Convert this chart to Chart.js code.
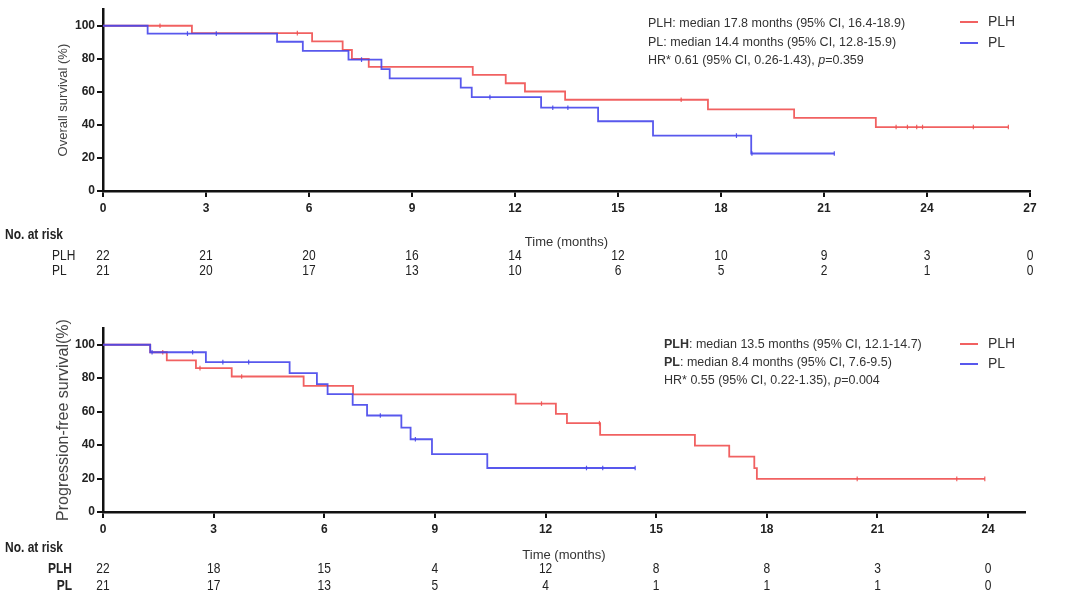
<!DOCTYPE html>
<html>
<head>
<meta charset="utf-8">
<script src="https://cdn.jsdelivr.net/npm/chart.js@4.4.1/dist/chart.umd.min.js"></script>
<style>
  html, body { margin: 0; padding: 0; background: #fff; }
  #wrap { position: relative; width: 1068px; height: 611px; }
  .box { position: absolute; left: 0; width: 1068px; }
  #top { top: 0; height: 300px; }
  #bot { top: 300px; height: 311px; }
</style>
</head>
<body>
<div id="wrap">
  <div class="box" id="top"><canvas id="osChart"></canvas></div>
  <div class="box" id="bot"><canvas id="pfsChart"></canvas></div>
</div>
<script>
// Overall survival
const osPlhTime = [0, 2.59, 6.09, 6.98, 7.25, 7.74, 10.77, 11.73, 12.29, 13.46, 17.62, 20.13, 22.51, 26.37];
const osPlhSurv = [100, 95.5, 90.5, 85.3, 80, 75.1, 70.3, 65.2, 60.2, 55.2, 49.4, 44.2, 38.7, 38.7];
const osPlhCens = [1.66, 5.66, 16.84, 23.1, 23.43, 23.7, 23.87, 25.35, 26.37];
const osPlTime = [0, 1.30, 5.07, 5.82, 7.15, 8.11, 8.35, 10.42, 10.74, 12.76, 14.42, 16.02, 18.88, 21.3];
const osPlSurv = [100, 95.2, 90.3, 84.8, 79.5, 73.8, 68.2, 62.5, 56.8, 50.4, 42.2, 33.5, 22.7, 22.7];
const osPlCens = [2.46, 3.3, 7.53, 11.27, 13.1, 13.54, 18.45, 18.9, 21.3];

// Progression-free survival
const pfsPlhTime = [0, 1.28, 1.73, 2.52, 3.49, 5.44, 6.78, 11.19, 12.28, 12.58, 13.48, 16.05, 16.98, 17.66, 17.73, 23.91];
const pfsPlhSurv = [100, 95.5, 90.6, 86, 81, 75.4, 70.3, 64.8, 58.7, 53.1, 46.1, 39.7, 33.1, 26.2, 19.8, 19.8];
const pfsPlhCens = [1.62, 2.63, 3.76, 11.89, 13.46, 20.45, 23.15, 23.91];
const pfsPlTime = [0, 1.28, 2.79, 5.06, 5.8, 6.09, 6.77, 7.16, 8.09, 8.34, 8.92, 10.42, 14.43];
const pfsPlSurv = [100, 95.5, 89.6, 83, 76.5, 70.5, 64, 57.7, 50.5, 43.5, 34.6, 26.3, 26.3];
const pfsPlCens = [1.33, 2.43, 3.25, 3.95, 7.52, 8.47, 13.11, 13.55, 14.43];

// numbers at risk
const osTicks = [0, 3, 6, 9, 12, 15, 18, 21, 24, 27];
const osRiskPlh = [22, 21, 20, 16, 14, 12, 10, 9, 3, 0];
const osRiskPl = [21, 20, 17, 13, 10, 6, 5, 2, 1, 0];
const pfsTicks = [0, 3, 6, 9, 12, 15, 18, 21, 24];
const pfsRiskPlh = [22, 18, 15, 4, 12, 8, 8, 3, 0];
const pfsRiskPl = [21, 17, 13, 5, 4, 1, 1, 1, 0];

const RED = 'rgba(240, 80, 80, 0.9)';
const BLUE = 'rgba(70, 70, 235, 0.9)';
const FONT = "'Liberation Sans', Arial, sans-serif";

function survAt(times, surv, t) {
  let v = surv[0];
  for (let i = 0; i < times.length; i++) if (times[i] <= t) v = surv[i];
  return v;
}

function curve(times, surv, color) {
  return {
    data: times.map((t, i) => ({ x: t, y: surv[i] })),
    borderColor: color, borderWidth: 1.8, stepped: 'before',
    pointRadius: 0, fill: false
  };
}

function censors(cens, times, surv, color) {
  return {
    data: cens.map(t => ({ x: t, y: survAt(times, surv, t) })),
    showLine: false, pointStyle: 'line', rotation: 90, pointRadius: 2.3,
    borderColor: color, borderWidth: 1.2, backgroundColor: color
  };
}

// draw text pieces one after the other
function runs(ctx, x, y, parts) {
  parts.forEach(([txt, font]) => {
    ctx.font = font;
    ctx.fillText(txt, x, y);
    x += ctx.measureText(txt).width;
  });
}

// condensed look for the risk table
function narrow(ctx, txt, x, y, align, font) {
  ctx.save();
  ctx.translate(x, y);
  ctx.scale(0.8, 1);
  ctx.font = font;
  ctx.textAlign = align;
  ctx.fillText(txt, 0, 0);
  ctx.restore();
}

function extras(o) {
  return {
    id: 'extras',
    afterDraw(chart) {
      const ctx = chart.ctx;
      const xs = chart.scales.x;
      ctx.save();
      ctx.fillStyle = '#333';
      ctx.textBaseline = 'middle';
      ctx.textAlign = 'left';
      // median text
      o.notes.forEach((parts, i) => runs(ctx, o.noteX, o.noteY[i], parts));
      // legend
      [[RED, 'PLH'], [BLUE, 'PL']].forEach(([c, name], i) => {
        const y = o.legY[i];
        ctx.strokeStyle = c;
        ctx.lineWidth = 2;
        ctx.beginPath();
        ctx.moveTo(960, y); ctx.lineTo(978, y);
        ctx.stroke();
        ctx.font = '14px ' + FONT;
        ctx.fillText(name, 988, y);
      });
      // risk table
      ctx.fillStyle = '#222';
      narrow(ctx, 'No. at risk', 5, o.riskY[0], 'left', 'bold 15px ' + FONT);
      narrow(ctx, 'PLH', o.labelX, o.riskY[1], o.labelAlign, o.labelFont);
      narrow(ctx, 'PL', o.labelX, o.riskY[2], o.labelAlign, o.labelFont);
      o.ticks.forEach((t, i) => {
        const px = xs.getPixelForValue(t);
        narrow(ctx, String(o.riskPlh[i]), px, o.riskY[1], 'center', '15px ' + FONT);
        narrow(ctx, String(o.riskPl[i]), px, o.riskY[2], 'center', '15px ' + FONT);
      });
      ctx.restore();
    }
  };
}

function makeChart(id, o) {
  return new Chart(document.getElementById(id), {
    type: 'line',
    data: {
      datasets: [
        curve(o.pl[0], o.pl[1], BLUE),
        censors(o.pl[2], o.pl[0], o.pl[1], BLUE),
        curve(o.plh[0], o.plh[1], RED),
        censors(o.plh[2], o.plh[0], o.plh[1], RED)
      ]
    },
    options: {
      responsive: true,
      maintainAspectRatio: false,
      animation: false,
      layout: { padding: o.padding },
      plugins: { legend: { display: false }, tooltip: { enabled: false } },
      scales: {
        x: {
          type: 'linear', min: 0, max: o.xMax,
          border: { color: '#111', width: 2.5 },
          grid: { drawOnChartArea: false, tickLength: 6, color: '#111', lineWidth: 2 },
          ticks: { stepSize: 3, color: '#222', padding: 4, maxRotation: 0, autoSkip: false,
                   font: { family: FONT, size: 12, weight: 'bold' } },
          title: { display: true, text: 'Time (months)', color: '#333', padding: { top: 2, bottom: 2 },
                   font: { family: FONT, size: 13 } },
          afterBuildTicks: s => { s.ticks = s.ticks.filter(t => t.value % 3 === 0); },
          afterFit: s => { s.height = o.xHeight; }
        },
        y: {
          min: 0, max: 110,
          border: { color: '#111', width: 2.5 },
          grid: { drawOnChartArea: false, tickLength: 6, color: '#111', lineWidth: 2 },
          ticks: { stepSize: 20, color: '#222', padding: 2,
                   font: { family: FONT, size: 12, weight: 'bold' } },
          title: { display: true, text: o.yTitle, color: '#444', padding: { top: 4, bottom: 4 },
                   font: { family: FONT, size: o.yTitleSize } },
          afterBuildTicks: s => { s.ticks = s.ticks.filter(t => t.value <= 100); },
          afterFit: s => { s.width = o.yWidth; }
        }
      }
    },
    plugins: [extras(o)]
  });
}

const N = '12.5px ' + FONT;
const B = 'bold 12.5px ' + FONT;
const I = 'italic 12.5px ' + FONT;

makeChart('osChart', {
  pl: [osPlTime, osPlSurv, osPlCens],
  plh: [osPlhTime, osPlhSurv, osPlhCens],
  xMax: 27, xHeight: 61, yWidth: 51,
  padding: { left: 52, right: 38, top: 8, bottom: 48 },
  yTitle: 'Overall survival (%)', yTitleSize: 13,
  noteX: 648, noteY: [24, 43, 61],
  notes: [
    [['PLH: median 17.8 months (95% CI, 16.4-18.9)', N]],
    [['PL: median 14.4 months (95% CI, 12.8-15.9)', N]],
    [['HR* 0.61 (95% CI, 0.26-1.43), ', N], ['p', I], ['=0.359', N]]
  ],
  legY: [22, 43],
  riskY: [235, 256, 271], labelFont: '15px ' + FONT, labelAlign: 'left', labelX: 52,
  ticks: osTicks, riskPlh: osRiskPlh, riskPl: osRiskPl
});

makeChart('pfsChart', {
  pl: [pfsPlTime, pfsPlSurv, pfsPlCens],
  plh: [pfsPlhTime, pfsPlhSurv, pfsPlhCens],
  xMax: 25, xHeight: 53, yWidth: 53,
  padding: { left: 50, right: 43, top: 28, bottom: 46 },
  yTitle: 'Progression-free survival(%)', yTitleSize: 16,
  noteX: 664, noteY: [45, 63, 81],
  notes: [
    [['PLH', B], [': median 13.5 months (95% CI, 12.1-14.7)', N]],
    [['PL', B], [': median 8.4 months (95% CI, 7.6-9.5)', N]],
    [['HR* 0.55 (95% CI, 0.22-1.35), ', N], ['p', I], ['=0.004', N]]
  ],
  legY: [44, 64],
  riskY: [248, 269, 286], labelFont: 'bold 15px ' + FONT, labelAlign: 'right', labelX: 72,
  ticks: pfsTicks, riskPlh: pfsRiskPlh, riskPl: pfsRiskPl
});
</script>
</body>
</html>
